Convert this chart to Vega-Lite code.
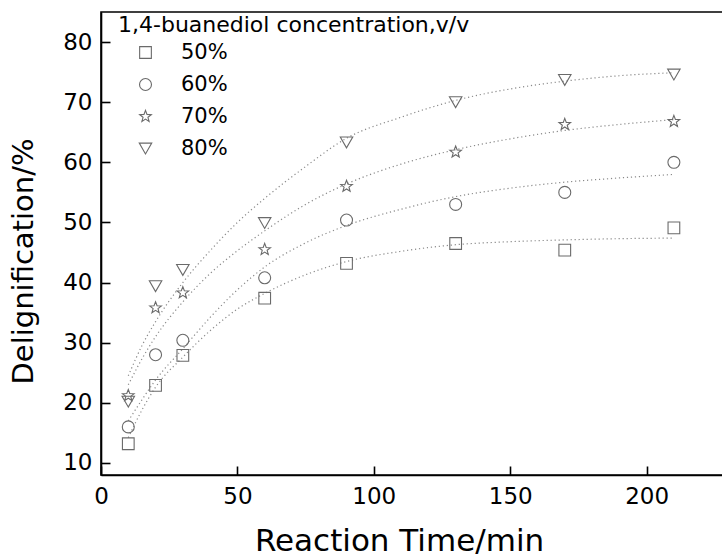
{
  "$schema": "https://vega.github.io/schema/vega-lite/v6.json",
  "width": 622,
  "height": 463,
  "autosize": {"type": "none"},
  "padding": {"left": 101, "top": 12, "right": 0, "bottom": 81},
  "background": "white",
  "config": {
    "font": "DejaVu Sans",
    "view": {"stroke": "black", "strokeWidth": 1.6},
    "axis": {
      "grid": false,
      "domainColor": "black",
      "domainWidth": 1.6,
      "tickColor": "black",
      "tickWidth": 1.6,
      "tickSize": -9,
      "labelFont": "DejaVu Sans",
      "labelFontSize": 23,
      "labelColor": "black",
      "labelFlush": false,
      "titleFont": "DejaVu Sans",
      "titleFontWeight": "normal",
      "titleColor": "black"
    },
    "legend": {
      "titleFont": "DejaVu Sans",
      "titleFontSize": 22,
      "titleFontWeight": "normal",
      "titleColor": "black",
      "titleLimit": 0,
      "labelFont": "DejaVu Sans",
      "labelFontSize": 21,
      "labelColor": "black",
      "labelLimit": 0
    }
  },
  "datasets": {
    "pts": [
      {"t": 10, "v": 13.2, "c": "50%"}, {"t": 20, "v": 22.9, "c": "50%"}, {"t": 30, "v": 27.9, "c": "50%"}, {"t": 60, "v": 37.4, "c": "50%"},
      {"t": 90, "v": 43.2, "c": "50%"}, {"t": 130, "v": 46.5, "c": "50%"}, {"t": 170, "v": 45.4, "c": "50%"}, {"t": 210, "v": 49.1, "c": "50%"},
      {"t": 10, "v": 16.0, "c": "60%"}, {"t": 20, "v": 28.0, "c": "60%"}, {"t": 30, "v": 30.4, "c": "60%"}, {"t": 60, "v": 40.8, "c": "60%"},
      {"t": 90, "v": 50.4, "c": "60%"}, {"t": 130, "v": 53.0, "c": "60%"}, {"t": 170, "v": 55.0, "c": "60%"}, {"t": 210, "v": 60.0, "c": "60%"},
      {"t": 10, "v": 21.2, "c": "70%"}, {"t": 20, "v": 35.8, "c": "70%"}, {"t": 30, "v": 38.3, "c": "70%"}, {"t": 60, "v": 45.5, "c": "70%"},
      {"t": 90, "v": 56.0, "c": "70%"}, {"t": 130, "v": 61.7, "c": "70%"}, {"t": 170, "v": 66.3, "c": "70%"}, {"t": 210, "v": 66.8, "c": "70%"},
      {"t": 10, "v": 20.2, "c": "80%"}, {"t": 20, "v": 39.4, "c": "80%"}, {"t": 30, "v": 42.1, "c": "80%"}, {"t": 60, "v": 49.9, "c": "80%"},
      {"t": 90, "v": 63.3, "c": "80%"}, {"t": 130, "v": 70.0, "c": "80%"}, {"t": 170, "v": 73.7, "c": "80%"}, {"t": 210, "v": 74.6, "c": "80%"}
    ],
    "fit": [
      {"t": 10, "v": 14.2, "c": "50%"}, {"t": 15, "v": 18.8, "c": "50%"}, {"t": 20, "v": 22.6, "c": "50%"}, {"t": 30, "v": 27.6, "c": "50%"},
      {"t": 40, "v": 32.0, "c": "50%"}, {"t": 50, "v": 35.6, "c": "50%"}, {"t": 60, "v": 38.2, "c": "50%"}, {"t": 75, "v": 41.3, "c": "50%"},
      {"t": 90, "v": 43.5, "c": "50%"}, {"t": 110, "v": 45.2, "c": "50%"}, {"t": 130, "v": 46.3, "c": "50%"}, {"t": 150, "v": 46.8, "c": "50%"},
      {"t": 170, "v": 47.1, "c": "50%"}, {"t": 190, "v": 47.3, "c": "50%"}, {"t": 210, "v": 47.4, "c": "50%"},
      {"t": 10, "v": 17.0, "c": "60%"}, {"t": 15, "v": 20.5, "c": "60%"}, {"t": 20, "v": 23.8, "c": "60%"}, {"t": 30, "v": 29.0, "c": "60%"},
      {"t": 40, "v": 34.2, "c": "60%"}, {"t": 50, "v": 38.8, "c": "60%"}, {"t": 60, "v": 42.6, "c": "60%"}, {"t": 75, "v": 46.6, "c": "60%"},
      {"t": 90, "v": 49.5, "c": "60%"}, {"t": 110, "v": 52.2, "c": "60%"}, {"t": 130, "v": 54.3, "c": "60%"}, {"t": 150, "v": 55.7, "c": "60%"},
      {"t": 170, "v": 56.7, "c": "60%"}, {"t": 190, "v": 57.4, "c": "60%"}, {"t": 210, "v": 58.0, "c": "60%"},
      {"t": 10, "v": 23.0, "c": "70%"}, {"t": 15, "v": 27.3, "c": "70%"}, {"t": 20, "v": 31.0, "c": "70%"}, {"t": 30, "v": 36.8, "c": "70%"},
      {"t": 40, "v": 41.5, "c": "70%"}, {"t": 50, "v": 45.3, "c": "70%"}, {"t": 60, "v": 48.6, "c": "70%"}, {"t": 75, "v": 53.0, "c": "70%"},
      {"t": 90, "v": 56.4, "c": "70%"}, {"t": 110, "v": 59.7, "c": "70%"}, {"t": 130, "v": 62.1, "c": "70%"}, {"t": 150, "v": 63.9, "c": "70%"},
      {"t": 170, "v": 65.3, "c": "70%"}, {"t": 190, "v": 66.3, "c": "70%"}, {"t": 210, "v": 67.1, "c": "70%"},
      {"t": 10, "v": 24.5, "c": "80%"}, {"t": 15, "v": 29.5, "c": "80%"}, {"t": 20, "v": 33.5, "c": "80%"}, {"t": 30, "v": 40.0, "c": "80%"},
      {"t": 40, "v": 45.3, "c": "80%"}, {"t": 50, "v": 50.0, "c": "80%"}, {"t": 60, "v": 54.0, "c": "80%"}, {"t": 75, "v": 59.3, "c": "80%"},
      {"t": 90, "v": 64.0, "c": "80%"}, {"t": 110, "v": 67.5, "c": "80%"}, {"t": 130, "v": 70.3, "c": "80%"}, {"t": 150, "v": 72.2, "c": "80%"},
      {"t": 170, "v": 73.5, "c": "80%"}, {"t": 190, "v": 74.4, "c": "80%"}, {"t": 210, "v": 74.9, "c": "80%"}
    ]
  },
  "layer": [
    {
      "data": {"name": "fit"},
      "mark": {"type": "line", "interpolate": "monotone", "stroke": "#8a8a8a", "strokeWidth": 1.2, "strokeDash": [1.2, 2.8], "clip": true},
      "encoding": {
        "x": {"field": "t", "type": "quantitative", "scale": {"domain": [0, 228], "nice": false, "zero": false},
              "axis": {"values": [0, 50, 100, 150, 200], "title": "Reaction Time/min", "titleFontSize": 31,
                       "titleX": 298, "titleY": 75, "titleAlign": "center", "titleBaseline": "alphabetic", "labelPadding": 19}},
        "y": {"field": "v", "type": "quantitative", "scale": {"domain": [8, 85], "nice": false, "zero": false},
              "axis": {"values": [10, 20, 30, 40, 50, 60, 70, 80], "title": "Delignification/%", "titleFontSize": 29,
                       "titleAngle": 270, "titleX": -69, "titleY": 249, "titleAlign": "center", "titleBaseline": "alphabetic", "labelPadding": 18}},
        "detail": {"field": "c", "type": "nominal"}
      }
    },
    {
      "data": {"name": "pts"},
      "mark": {"type": "point", "filled": false, "stroke": "#6a6a6a", "strokeWidth": 1.1, "opacity": 1},
      "encoding": {
        "x": {"field": "t", "type": "quantitative"},
        "y": {"field": "v", "type": "quantitative"},
        "shape": {"field": "c", "type": "nominal",
                  "scale": {"domain": ["50%", "60%", "70%", "80%"], "range": ["square", "circle", "M0,-1L0.247,-0.34L0.951,-0.309L0.399,0.13L0.588,0.809L0,0.42L-0.588,0.809L-0.399,0.13L-0.951,-0.309L-0.247,-0.34Z", "triangle-down"]},
                  "legend": {"orient": "none", "legendX": 17, "legendY": 3, "direction": "vertical",
                             "title": "1,4-buanediol concentration,v/v", "padding": 0, "titlePadding": 5,
                             "symbolOffset": 17, "labelOffset": 25, "rowPadding": 10,
                             "symbolStrokeColor": "#6a6a6a", "symbolFillColor": "transparent", "symbolStrokeWidth": 1.1}},
        "size": {"field": "c", "type": "nominal",
                 "scale": {"domain": ["50%", "60%", "70%", "80%"], "range": [137, 156, 217, 240]}}
      }
    }
  ]
}
